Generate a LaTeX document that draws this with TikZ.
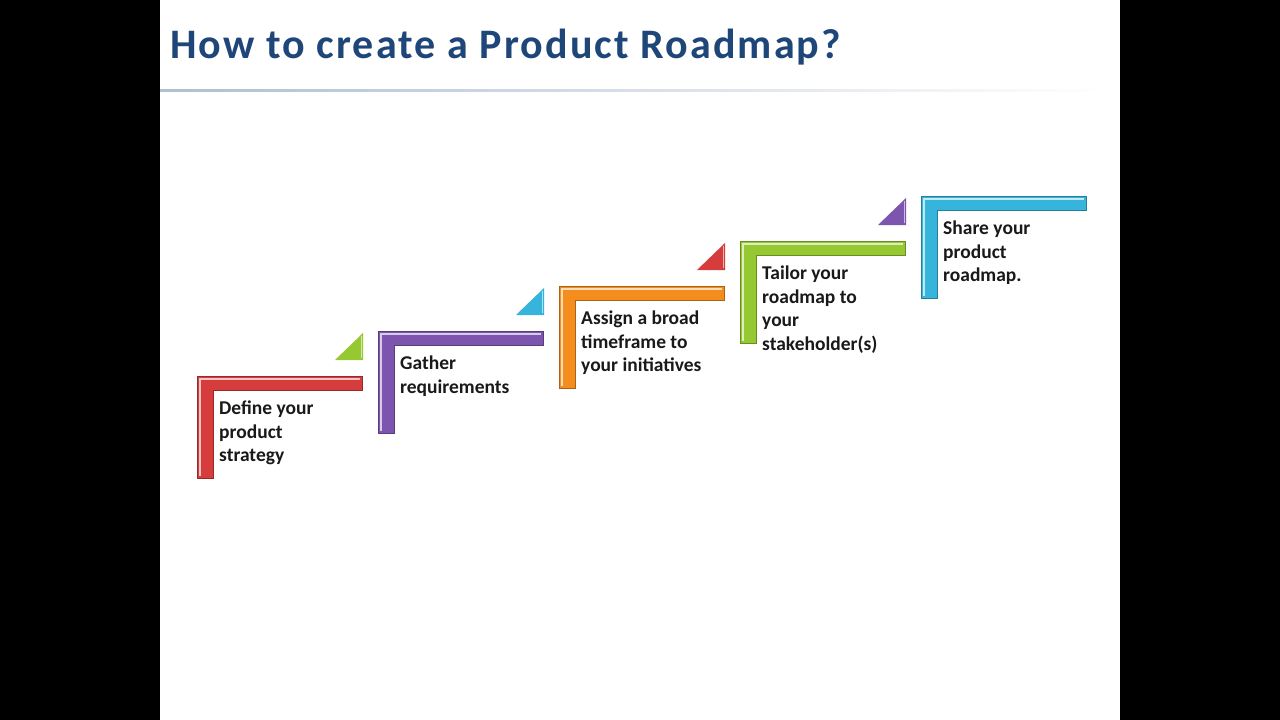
\documentclass[tikz,border=0pt]{standalone}
\usepackage{fontspec}
\setmainfont{Carlito}
\begin{document}
\begin{tikzpicture}[x=1pt,y=-1pt,
  lbl/.style={anchor=north west,align=left,inner sep=0pt,font=\fontsize{19.5}{23.5}\selectfont\bfseries,text=black!90}]
\definecolor{cA}{RGB}{215,60,60}
\definecolor{cB}{RGB}{125,85,175}
\definecolor{cC}{RGB}{245,140,30}
\definecolor{cD}{RGB}{150,200,50}
\definecolor{cE}{RGB}{55,180,220}
\definecolor{ttl}{RGB}{30,70,120}
\fill[black] (0,0) rectangle (1280,720);
\useasboundingbox (0,0) rectangle (1280,720);
\fill[white] (160,0) rectangle (1120,720);
\node[anchor=west,inner sep=0pt,text=ttl,font=\fontsize{42}{46}\selectfont\bfseries\addfontfeatures{LetterSpace=5}] (title) at (170,47) {How to create a Product Roadmap?};
\shade[left color=ttl!35,right color=white] (160,89) rectangle (1110,91);
\foreach \i/\c/\t/\txt in {0/cA/cD/{Define your\\product\\strategy},1/cB/cE/{Gather\\requirements},2/cC/cA/{Assign a broad\\timeframe to\\your initiatives},3/cD/cB/{Tailor your\\roadmap to\\your\\stakeholder(s)},4/cE/cD/{Share your\\product\\roadmap.}}{
  \pgfmathsetmacro{\xo}{197+181*\i}
  \pgfmathsetmacro{\yo}{376-45*\i}
  \fill[\c, draw=\c!70!black, line width=0.5pt] (\xo,\yo) -- (\xo+165,\yo) -- (\xo+165,\yo+14) -- (\xo+16,\yo+14) -- (\xo+16,\yo+102) -- (\xo,\yo+102) -- cycle;
  \draw[white!70!\c, line width=1.2pt] (\xo+3,\yo+100) -- (\xo+3,\yo+3) -- (\xo+163,\yo+3);
  \node[lbl] (t\i) at (\xo+22,\yo+25) {\txt};
}
\foreach \i/\t in {1/cD,2/cE,3/cA,4/cB}{
  \pgfmathsetmacro{\xo}{197+181*\i}
  \pgfmathsetmacro{\yo}{376-45*\i}
  \fill[\t] (\xo-15,\yo+29) -- (\xo-43,\yo+29) -- (\xo-15,\yo+2) -- cycle;
  \draw[white!60!\t, line width=1pt] (\xo-17,\yo+5) -- (\xo-17,\yo+27);
}
\end{tikzpicture}
\end{document}
